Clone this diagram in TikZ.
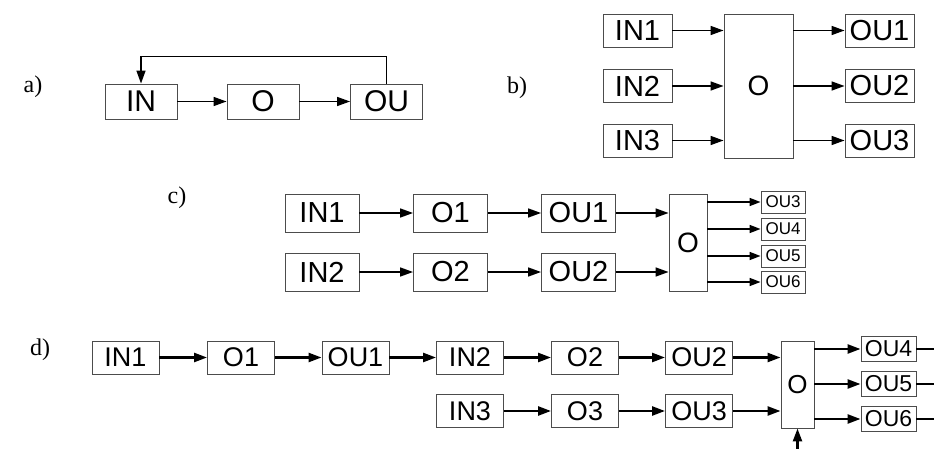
\documentclass[tikz,border=0pt]{standalone}
\usepackage{fontspec}
\setmainfont{Liberation Sans}
\newfontfamily\labelfont{Liberation Serif}
\usetikzlibrary{arrows.meta}
\newcommand{\fs}[1]{\fontsize{#1}{#1}\selectfont}
\tikzset{
  blk/.style={draw=black!70, line width=0.9pt, inner sep=0pt, rectangle},
  wire/.style={line width=1.5pt, -{Triangle[length=13pt,width=9pt]}},
  plain/.style={line width=1.5pt},
  tag/.style={inner sep=0pt, font=\labelfont\fs{24}}
}
\begin{document}
\begin{tikzpicture}[x=1pt,y=-1pt]
\useasboundingbox (0,0) rectangle (934,449);

% ---------- a) single loop ----------
\node[tag] (la) at (33,87) {a)};
\begin{scope}[every node/.append style={blk, minimum width=72pt, minimum height=35pt, font=\fs{30}}]
  \node (aIN) at (141,101.5) {IN};
  \node (aO)  at (263,101.5) {O};
  \node (aOU) at (386.5,101.5) {OU};
\end{scope}
\draw[wire] (aIN) -- (aO);
\draw[wire] (aO) -- (aOU);
\draw[wire] (aOU.north) -- ++(0,-27) -| (aIN.north);

% ---------- b) several inputs, several outputs ----------
\node[tag] (lb) at (517,88) {b)};
\begin{scope}[every node/.append style={blk, minimum width=69pt, minimum height=33pt, font=\fs{29}}]
  \node (bIN1) at (637.5,30.5) {IN1};
  \node (bIN2) at (637.5,86) {IN2};
  \node (bIN3) at (637.5,140.5) {IN3};
  \node (bOU1) at (879.5,30.5) {OU1};
  \node (bOU2) at (879.5,86) {OU2};
  \node (bOU3) at (879.5,140.5) {OU3};
\end{scope}
\node[blk, minimum width=69pt, minimum height=144pt, font=\fs{28}] (bO) at (758.5,86) {O};
\foreach \i in {1,2,3}{
  \draw[wire] (bIN\i) -- (bIN\i -| bO.west);
  \draw[wire] (bOU\i -| bO.east) -- (bOU\i);
}

% ---------- c) two chains into a shared block ----------
\node[tag] (lc) at (177,198) {c)};
\begin{scope}[every node/.append style={blk, minimum width=74pt, minimum height=38pt, font=\fs{29}}]
  \node (cIN1) at (322,213) {IN1};
  \node (cIN2) at (322,272) {IN2};
  \node (cO1)  at (450.5,213) {O1};
  \node (cO2)  at (450.5,272) {O2};
  \node (cOU1) at (578.5,213) {OU1};
  \node (cOU2) at (578.5,272) {OU2};
\end{scope}
\node[blk, minimum width=38pt, minimum height=97pt, font=\fs{28}] (cO) at (688,242.5) {O};
\begin{scope}[every node/.append style={blk, minimum width=44pt, minimum height=22pt, font=\fs{17}}]
  \node (cOU3) at (783,202) {OU3};
  \node (cOU4) at (783,229) {OU4};
  \node (cOU5) at (783,256) {OU5};
  \node (cOU6) at (783,282) {OU6};
\end{scope}
\begin{scope}[wire/.append style={line width=1.6pt}]
  \foreach \i in {1,2}{
    \draw[wire] (cIN\i) -- (cO\i);
    \draw[wire] (cO\i) -- (cOU\i);
    \draw[wire] (cOU\i) -- (cOU\i -| cO.west);
  }
  \foreach \i in {3,4,5,6}
    \draw[wire, -{Triangle[length=11pt,width=8pt]}] (cOU\i -| cO.east) -- (cOU\i);
\end{scope}

% ---------- d) cascaded chains with feed-in and outputs ----------
\node[tag] (ld) at (40,350) {d)};
\begin{scope}[every node/.append style={blk, minimum width=67pt, minimum height=33pt, font=\fs{27}}]
  \node (dIN1) at (125.5,357.5) {IN1};
  \node (dO1)  at (241,357.5) {O1};
  \node (dOU1) at (355.5,357.5) {OU1};
  \node (dIN2) at (470,357.5) {IN2};
  \node (dO2)  at (585,357.5) {O2};
  \node (dOU2) at (699,357.5) {OU2};
  \node (dIN3) at (470,411) {IN3};
  \node (dO3)  at (585,411) {O3};
  \node (dOU3) at (699,411) {OU3};
\end{scope}
\node[blk, minimum width=33pt, minimum height=87pt, font=\fs{26}] (dO) at (797.5,384.5) {O};
\begin{scope}[every node/.append style={blk, minimum width=55pt, minimum height=25pt, font=\fs{23}}]
  \node (dOU4) at (888.5,349) {OU4};
  \node (dOU5) at (888.5,384) {OU5};
  \node (dOU6) at (888.5,419) {OU6};
\end{scope}
\coordinate (e4) at (934,349);
\coordinate (e5) at (934,384);
\coordinate (e6) at (934,419);
\coordinate (feed) at (797.5,449);
\begin{scope}[wire/.append style={line width=2.4pt}, plain/.append style={line width=2.4pt}]
  \draw[wire] (dIN1) -- (dO1);
  \draw[wire] (dO1) -- (dOU1);
  \draw[wire] (dOU1) -- (dIN2);
  \draw[wire] (dIN2) -- (dO2);
  \draw[wire] (dO2) -- (dOU2);
  \draw[wire] (dIN3) -- (dO3);
  \draw[wire] (dO3) -- (dOU3);
  \draw[wire] (dOU2) -- (dOU2 -| dO.west);
  \draw[wire] (dOU3) -- (dOU3 -| dO.west);
  \foreach \i in {4,5,6}{
    \draw[wire] (dOU\i -| dO.east) -- (dOU\i);
    \draw[plain] (dOU\i) -- (e\i);
  }
  \draw[wire] (feed) -- (dO.south);
\end{scope}
\end{tikzpicture}
\end{document}
